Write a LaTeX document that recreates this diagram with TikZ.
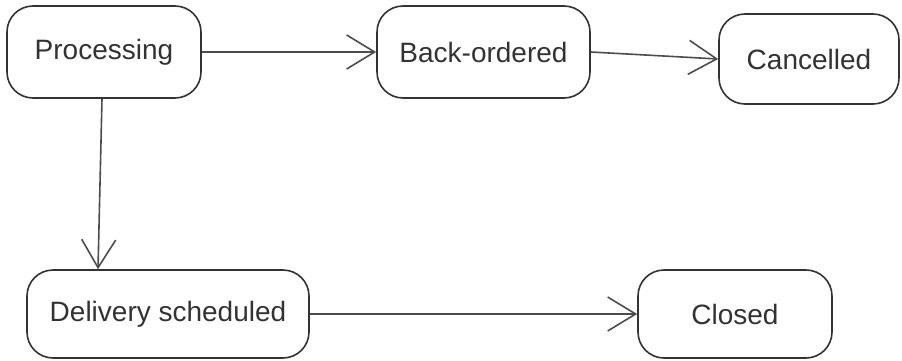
\documentclass[tikz,border=0pt]{standalone}
\usepackage{fontspec}
\setmainfont{Liberation Sans}
\usetikzlibrary{arrows.meta}
\begin{document}
\begin{tikzpicture}[x=1pt,y=-1pt,
  state/.style={draw=black!80, line width=1.6pt, rounded corners=26pt, fill=white,
    text=black!80, font=\fontsize{28}{32}\selectfont, inner sep=0pt},
  trans/.style={draw=black!70, line width=1.6pt,
    -{Straight Barb[length=28pt,width=34pt,line width=1.6pt]}}]
\useasboundingbox (0,0) rectangle (902,361);
\node[state, minimum width=194pt, minimum height=92pt] (proc) at (104,52) {Processing};
\node[state, minimum width=213pt, minimum height=92pt] (back) at (483.5,52) {Back-ordered};
\node[state, minimum width=180pt, minimum height=90pt] (canc) at (809,59) {Cancelled};
\node[state, minimum width=282pt, minimum height=88pt] (deliv) at (168,314) {Delivery scheduled};
\node[state, minimum width=194pt, minimum height=88pt] (closed) at (735,314) {Closed};
\draw[trans] (proc.east) -- (back.west);
\draw[trans] (back.east) -- (canc.west);
\draw[trans] ([xshift=-2pt]proc.south) -- ([xshift=-70pt]deliv.north);
\draw[trans] (deliv.east) -- (closed.west);
\end{tikzpicture}
\end{document}
